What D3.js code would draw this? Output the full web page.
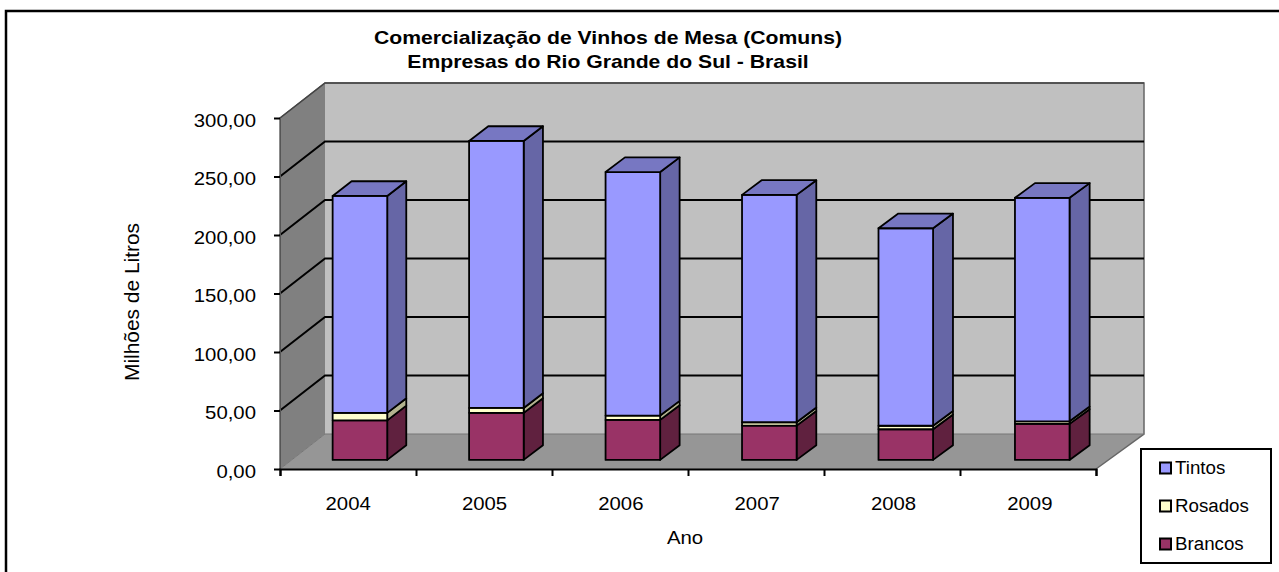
<!DOCTYPE html>
<html>
<head>
<meta charset="utf-8">
<script src="https://cdn.jsdelivr.net/npm/d3@7"></script>
<style>
html, body { margin: 0; padding: 0; background: #fff; }
svg { display: block; }
text { font-family: "Liberation Sans", Arial, sans-serif; fill: #000; }
</style>
</head>
<body>
<svg id="chart" width="1279" height="572"></svg>
<script>
var anos = ["2004", "2005", "2006", "2007", "2008", "2009"];
var brancos = [33.8, 40.2, 34.2, 29.3, 26.2, 30.8];
var rosados = [6.4, 4.2, 3.7, 2.9, 3.0, 2.2];
var tintos = [185.4, 228.2, 208.1, 194.3, 168.8, 191.0];
var nomes = ["Brancos", "Rosados", "Tintos"];
var yTicks = [0, 50, 100, 150, 200, 250, 300];
var titulo = ["Comercialização de Vinhos de Mesa (Comuns)", "Empresas do Rio Grande do Sul - Brasil"];

var cores = {
    Brancos: { front: "#993366", side: "#60213f", top: "#7a2952" },
    Rosados: { front: "#ffffcc", side: "#b3b38f", top: "#ccccA3" },
    Tintos: { front: "#9999ff", side: "#6666a6", top: "#7777c2" }
};

var svg = d3.select("#chart");

// the source image is stretched sideways, so the text is too
function stretch(sel, k) {
    sel.each(function() {
        var w = this.getComputedTextLength();
        d3.select(this).attr("textLength", w * k).attr("lengthAdjust", "spacingAndGlyphs");
    });
}

var left = 280, right = 1096, bottom = 469, topY = 118;

var x = d3.scaleBand().domain(anos).range([left, right + 2]).paddingInner(0.6).paddingOuter(0.3);
var xEdge = d3.scaleLinear().domain([0, anos.length]).range([left, right]);
var y = d3.scaleLinear().domain([0, 300]).range([bottom, topY]);
// depth of the fake 3d box
var dx = d3.scaleLinear().domain([0, 1]).range([0, 45]);
var dy = d3.scaleLinear().domain([0, 1]).range([0, -35]);
// back wall is a bit wider than the front edge
var backWide = 3 / (right - left);
function pt(px, v, z) { return [px + (px - left) * backWide * z + dx(z), y(v) + dy(z)]; }
var poly = d3.line().curve(d3.curveLinearClosed);
var line = d3.line();

// outer frame, only top and left are inside the crop
svg.append("path")
    .attr("d", line([[6, 572], [6, 11], [1279, 11]]))
    .attr("fill", "none").attr("stroke", "#000").attr("stroke-width", 2.5);

// walls
svg.append("path").attr("d", poly([pt(left, 0, 1), pt(right, 0, 1), pt(right, 300, 1), pt(left, 300, 1)]))
    .attr("fill", "#c0c0c0");
svg.append("path").attr("d", poly([pt(left, 0, 0), pt(left, 0, 1), pt(left, 300, 1), pt(left, 300, 0)]))
    .attr("fill", "#808080");
svg.append("path").attr("d", poly([pt(left, 0, 0), pt(right, 0, 0), pt(right, 0, 1), pt(left, 0, 1)]))
    .attr("fill", "#969696");

// wall outlines
svg.append("path")
    .attr("d", line([pt(left, 0, 0), pt(left, 300, 0), pt(left, 300, 1), pt(right, 300, 1), pt(right, 0, 1), pt(right, 0, 0)]))
    .attr("fill", "none").attr("stroke", "#666").attr("stroke-width", 1.5);
svg.append("path")
    .attr("d", line([pt(left, 0, 0), pt(left, 0, 1), pt(right, 0, 1)]))
    .attr("fill", "none").attr("stroke", "#777").attr("stroke-width", 1);

// grid
svg.append("g").selectAll("path")
    .data(yTicks.filter(function(d) { return d > 0 && d < 300; }))
    .enter().append("path")
    .attr("d", function(d) { return line([pt(left, d, 0), pt(left, d, 1), pt(right, d, 1)]); })
    .attr("fill", "none").attr("stroke", "#000").attr("stroke-width", 2);
svg.append("path")
    .attr("d", line([pt(left, 300, 0), pt(left, 300, 1), pt(right, 300, 1)]))
    .attr("fill", "none").attr("stroke", "#444").attr("stroke-width", 1.5);

// bars
var tabela = anos.map(function(a, i) {
    return { ano: a, Brancos: brancos[i], Rosados: rosados[i], Tintos: tintos[i] };
});
var stack = d3.stack().keys(nomes)(tabela);
var z0 = 0.26, z1 = 0.68;

var barras = svg.append("g");
stack.forEach(function(serie, s) {
    var nome = serie.key;
    var g = barras.append("g").attr("class", "serie-" + nome);
    serie.forEach(function(d) {
        var a = x(d.data.ano), b = a + x.bandwidth();
        var faces = [
            { c: cores[nome].side, p: [pt(b, d[0], z0), pt(b, d[0], z1), pt(b, d[1], z1), pt(b, d[1], z0)] },
            { c: cores[nome].front, p: [pt(a, d[0], z0), pt(b, d[0], z0), pt(b, d[1], z0), pt(a, d[1], z0)] }
        ];
        if (s == nomes.length - 1) {
            faces.push({ c: cores[nome].top, p: [pt(a, d[1], z0), pt(b, d[1], z0), pt(b, d[1], z1), pt(a, d[1], z1)] });
        }
        g.selectAll(null).data(faces).enter().append("path")
            .attr("d", function(f) { return poly(f.p); })
            .attr("fill", function(f) { return f.c; })
            .attr("stroke", "#000").attr("stroke-width", 1.8).attr("stroke-linejoin", "round");
    });
});

// axes
var yAxis = svg.append("g").attr("transform", "translate(" + left + ",0)")
    .call(d3.axisLeft(y).tickValues(yTicks).tickSize(6).tickPadding(18)
        .tickFormat(function(d) { return d.toFixed(2).replace(".", ","); }));
yAxis.select(".domain").attr("stroke", "#555");
yAxis.selectAll("line").attr("stroke", "#000").attr("stroke-width", 2);
yAxis.selectAll("text").attr("font-size", 18.5).attr("font-family", null).attr("dy", "0.44em");
stretch(yAxis.selectAll("text"), 1.1);

var xTicks = svg.append("g").attr("transform", "translate(0," + bottom + ")")
    .call(d3.axisBottom(xEdge).ticks(anos.length).tickSize(7).tickFormat(""));
xTicks.select(".domain").attr("stroke", "#000").attr("stroke-width", 2);
xTicks.selectAll("line").attr("stroke", "#000").attr("stroke-width", 2);

var xAxis = svg.append("g").attr("transform", "translate(0," + bottom + ")")
    .call(d3.axisBottom(x).tickSize(0).tickPadding(28));
xAxis.select(".domain").remove();
xAxis.selectAll("text").attr("font-size", 18.5).attr("font-family", null);
stretch(xAxis.selectAll("text"), 1.1);

// titles
var t = svg.append("g").selectAll("text").data(titulo).enter().append("text")
    .attr("x", 608).attr("y", function(d, i) { return 44 + i * 23.5; })
    .attr("text-anchor", "middle").attr("font-size", 18.5).attr("font-weight", "bold")
    .text(function(d) { return d; });
stretch(t, 1.145);

var ano = svg.append("text").attr("x", 685).attr("y", 544).attr("text-anchor", "middle")
    .attr("font-size", 18.5).text("Ano");
stretch(ano, 1.1);

var milhoes = svg.append("text").attr("transform", "translate(139,302) rotate(-90)")
    .attr("text-anchor", "middle").attr("font-size", 20).text("Milhões de Litros");
stretch(milhoes, 1.045);

// legend
svg.append("rect").attr("x", 1141).attr("y", 449).attr("width", 130).attr("height", 114)
    .attr("fill", "#fff").attr("stroke", "#000").attr("stroke-width", 2);
var legY = d3.scalePoint().domain(nomes.slice().reverse()).range([468, 544]);
var leg = svg.append("g").selectAll("g").data(nomes).enter().append("g")
    .attr("transform", function(d) { return "translate(1160," + legY(d) + ")"; });
leg.append("rect").attr("x", 0).attr("y", -5.5).attr("width", 11).attr("height", 11)
    .attr("fill", function(d) { return cores[d].front; })
    .attr("stroke", "#000").attr("stroke-width", 2);
var legText = leg.append("text").attr("x", 15).attr("dy", "0.36em").attr("font-size", 18)
    .text(function(d) { return d; });
stretch(legText, 1.04);
</script>
</body>
</html>
